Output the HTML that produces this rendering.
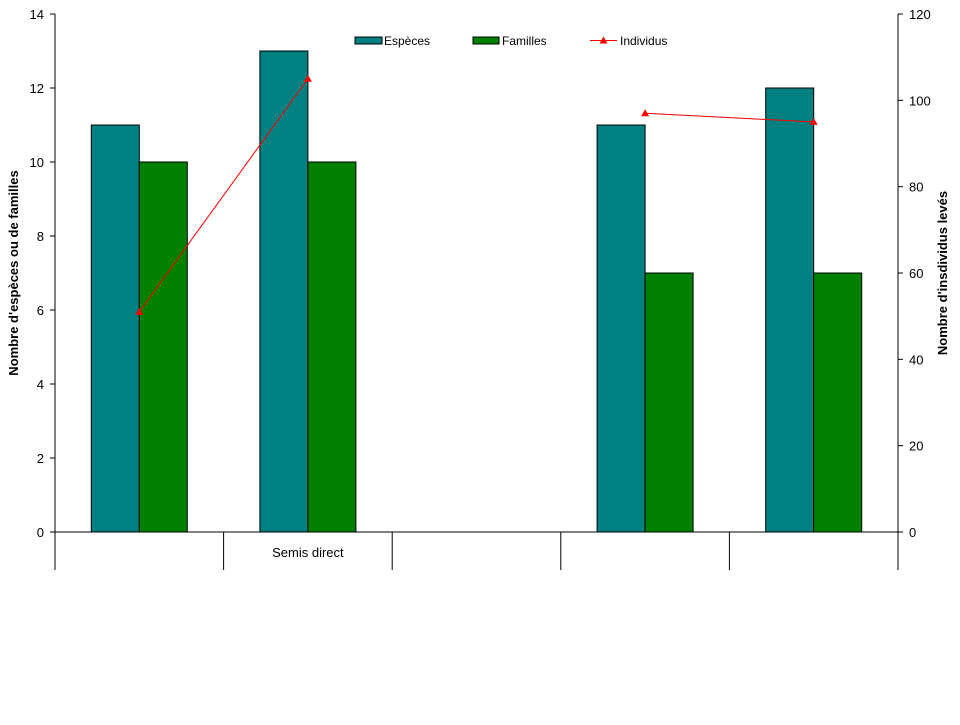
<!DOCTYPE html>
<html><head><meta charset="utf-8"><style>
body{margin:0;background:#fff;}
svg text{font-family:"Liberation Sans",Arial,sans-serif;}
</style></head><body>
<svg id="chart" width="960" height="720" xmlns="http://www.w3.org/2000/svg">
<g id="g"></g>
</svg>
<script>
const categories=["","Semis direct","","",""];
const especes=[11,13,null,11,12];
const familles=[10,10,null,7,7];
const individus=[51,105,null,97,95];
const leftTicks=[0,2,4,6,8,10,12,14];
const rightTicks=[0,20,40,60,80,100,120];
const NS="http://www.w3.org/2000/svg";
const g=document.getElementById('g');
const X0=55,X1=898,Y0=532,Y1=14;
const gw=(X1-X0)/categories.length;
const yL=v=>Y0-(v/14)*(Y0-Y1);
const yR=v=>Y0-(v/120)*(Y0-Y1);
function el(t,a,txt){const e=document.createElementNS(NS,t);for(const k in a)e.setAttribute(k,a[k]);if(txt!==undefined)e.textContent=txt;g.appendChild(e);return e;}
// bars
categories.forEach((c,i)=>{
 const cx=X0+gw*(i+0.5);
 if(especes[i]!=null){const r=el('rect',{x:cx-48,y:yL(especes[i]),width:48,height:Y0-yL(especes[i]),fill:'#008080',stroke:'#000','stroke-width':1});
 
 }
 if(familles[i]!=null){const r=el('rect',{x:cx,y:yL(familles[i]),width:48,height:Y0-yL(familles[i]),fill:'#008000',stroke:'#000','stroke-width':1});
 
 }
 if(c){const t=el('text',{x:cx,y:557,'font-size':13,'text-anchor':'middle'},c);
 
 }
});
// axes
let a=el('line',{x1:X0,y1:Y1,x2:X0,y2:570,stroke:'#000'});


a=el('line',{x1:X1,y1:Y1,x2:X1,y2:570,stroke:'#000'});


a=el('line',{x1:X0,y1:Y0,x2:X1,y2:Y0,stroke:'#000'});


for(let i=1;i<categories.length;i++){const x=X0+gw*i;const l=el('line',{x1:x,y1:Y0,x2:x,y2:570,stroke:'#000'});
 
 }
leftTicks.forEach(v=>{const y=yL(v);el('line',{x1:X0-5,y1:y,x2:X0,y2:y,stroke:'#000'});
 const t=el('text',{x:X0-11,y:y+5,'font-size':13,'text-anchor':'end'},v);
 
 });
rightTicks.forEach(v=>{const y=yR(v);el('line',{x1:X1,y1:y,x2:X1+5,y2:y,stroke:'#000'});
 const t=el('text',{x:X1+11,y:y+5,'font-size':13,'text-anchor':'start'},v);
 
 });
let t=el('text',{x:0,y:0,'font-size':13,'font-weight':'bold','text-anchor':'middle',transform:'translate(18,273) rotate(-90)'},"Nombre d'espèces ou de familles");


t=el('text',{x:0,y:0,'font-size':13,'font-weight':'bold','text-anchor':'middle',transform:'translate(947,273) rotate(-90)'},"Nombre d'insdividus levés");


// line
let segs=[],cur=[];
individus.forEach((v,i)=>{if(v==null){if(cur.length)segs.push(cur);cur=[];}else cur.push([X0+gw*(i+0.5),yR(v)]);});
if(cur.length)segs.push(cur);
segs.forEach(s=>{if(s.length>1){const p=el('polyline',{points:s.map(q=>q.join(',')).join(' '),fill:'none',stroke:'#ff0000','stroke-width':1});
 
 }
 s.forEach(q=>{const m=el('polygon',{points:`${q[0]},${q[1]-4} ${q[0]-4},${q[1]+3} ${q[0]+4},${q[1]+3}`,fill:'#ff0000'});
 
 });});
// legend
let r=el('rect',{x:355,y:37,width:27,height:7,fill:'#008080',stroke:'#000'});


t=el('text',{x:384,y:45,'font-size':12},'Espèces');


r=el('rect',{x:473,y:37,width:26,height:7,fill:'#008000',stroke:'#000'});


t=el('text',{x:502,y:45,'font-size':12},'Familles');


r=el('line',{x1:590,y1:40.5,x2:617,y2:40.5,stroke:'#ff0000'});


el('polygon',{points:'603.5,36.5 599.5,43.5 607.5,43.5',fill:'#ff0000'});
t=el('text',{x:620,y:45,'font-size':12},'Individus');


</script>
</body></html>
